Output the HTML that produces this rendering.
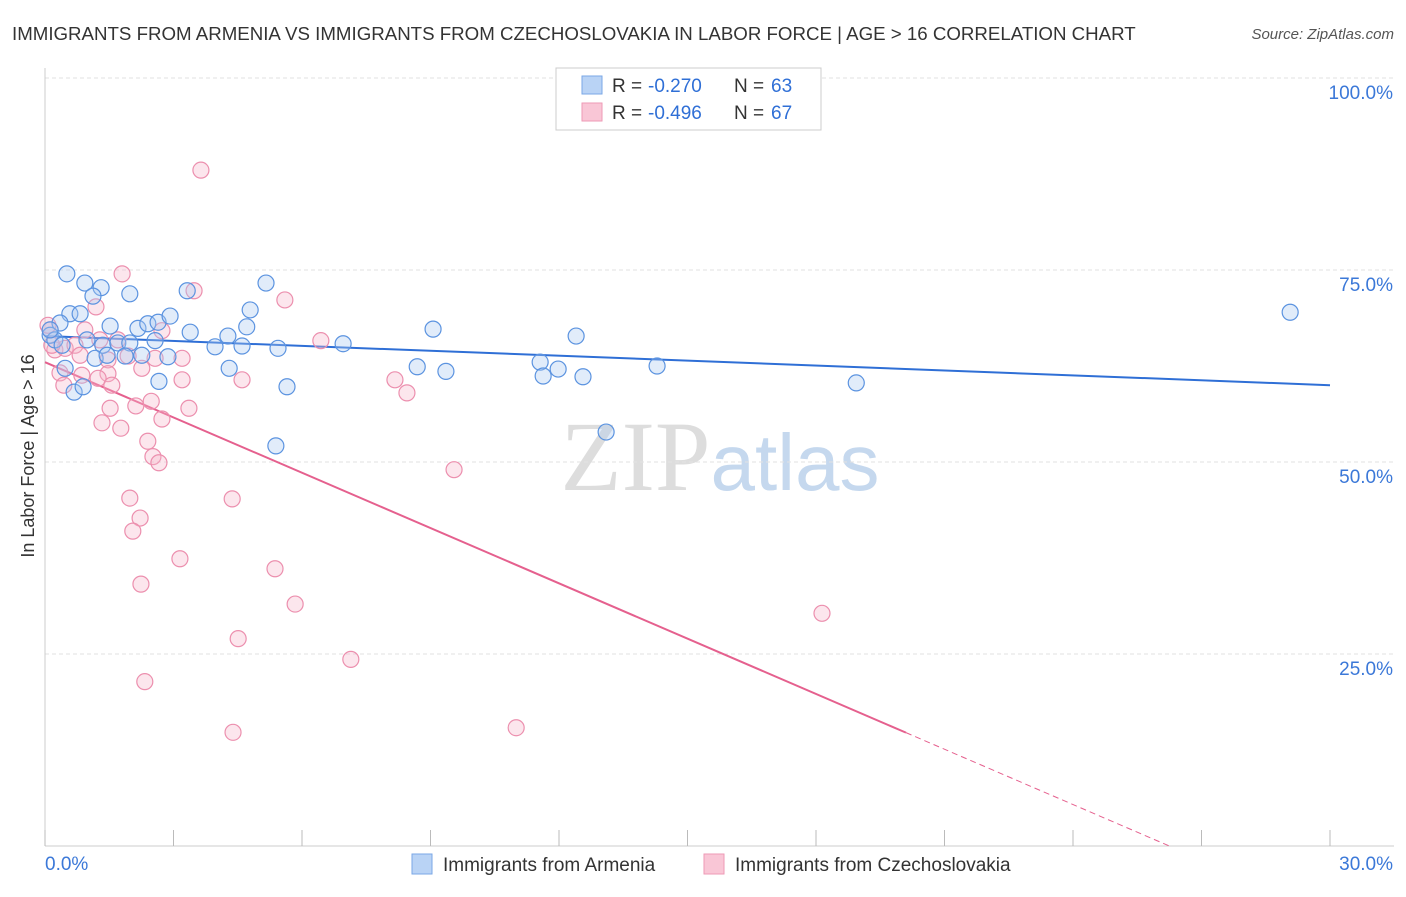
<!DOCTYPE html>
<html><head><meta charset="utf-8"><style>
body{margin:0;background:#fff;font-family:"Liberation Sans",sans-serif}
</style></head><body>
<svg id="chart" width="1406" height="892" xmlns="http://www.w3.org/2000/svg" font-family="Liberation Sans, sans-serif">
<text x="12" y="40" font-size="18.7" fill="#333">IMMIGRANTS FROM ARMENIA VS IMMIGRANTS FROM CZECHOSLOVAKIA IN LABOR FORCE | AGE &gt; 16 CORRELATION CHART</text>
<text x="1394" y="39" font-size="15" fill="#555" font-style="italic" text-anchor="end">Source: ZipAtlas.com</text>
<text x="720" y="490" font-size="100" text-anchor="middle"><tspan fill="#ddd" font-family="Liberation Serif, serif">ZIP</tspan><tspan fill="#c5d8ee" font-size="80">atlas</tspan></text>
<text transform="translate(34,456) rotate(-90)" font-size="18" fill="#333" text-anchor="middle">In Labor Force | Age &gt; 16</text>
<g id="grid"></g><g id="axes"></g><g id="lines"></g><g id="pts"></g>
<g>
<rect x="556" y="68" width="265" height="62" fill="#fff" stroke="#ccc"/>
<rect x="582" y="76" width="20" height="18" fill="#b9d3f5" stroke="#7aa7e6"/>
<text x="612" y="92" font-size="19" fill="#333">R = </text><text x="648" y="92" font-size="19" fill="#2f6fd6">-0.270</text>
<text x="734" y="92" font-size="19" fill="#333">N = </text><text x="771" y="92" font-size="19" fill="#2f6fd6">63</text>
<rect x="582" y="103" width="20" height="18" fill="#f9c6d6" stroke="#ee9ab6"/>
<text x="612" y="119" font-size="19" fill="#333">R = </text><text x="648" y="119" font-size="19" fill="#2f6fd6">-0.496</text>
<text x="734" y="119" font-size="19" fill="#333">N = </text><text x="771" y="119" font-size="19" fill="#2f6fd6">67</text>
</g>
<g>
<rect x="412" y="854" width="20" height="20" fill="#b9d3f5" stroke="#7aa7e6"/>
<text x="443" y="871" font-size="19" fill="#333">Immigrants from Armenia</text>
<rect x="704" y="854" width="20" height="20" fill="#f9c6d6" stroke="#ee9ab6"/>
<text x="735" y="871" font-size="19" fill="#333">Immigrants from Czechoslovakia</text>
</g>
</svg>
<script>
const yTicks=[25,50,75,100];
const yTickLabels=["25.0%","50.0%","75.0%","100.0%"];
const xTicks=[0,3,6,9,12,15,18,21,24,27,30];
const blueX=[0.51,0.93,1.31,1.12,1.98,3.32,5.16,4.79,0.58,0.82,0.35,1.52,2.17,2.40,2.64,2.92,3.39,4.27,4.71,9.06,12.4,29.07,0.12,0.23,0.98,1.35,1.70,1.98,2.57,3.97,4.60,5.44,6.96,1.17,1.45,1.87,2.26,2.87,0.47,4.30,8.69,9.36,11.56,11.63,11.98,12.56,14.29,18.94,2.66,5.65,0.68,0.89,13.1,5.39,0.12,0.40];
const blueY=[74.5,73.3,72.7,71.6,71.9,72.3,73.3,69.8,69.3,69.3,68.1,67.7,67.4,68.0,68.2,69.0,66.9,66.4,67.6,67.3,66.4,69.5,66.5,65.9,65.9,65.2,65.5,65.5,65.8,65.0,65.1,64.8,65.4,63.5,63.9,63.8,63.9,63.7,62.2,62.2,62.4,61.8,63.0,61.2,62.1,61.1,62.5,60.3,60.5,59.8,59.1,59.8,53.9,52.1,67.2,65.2];
const pinkX=[3.64,1.80,3.48,5.60,1.19,2.73,0.93,6.44,0.12,0.23,0.47,0.70,1.28,1.70,0.82,1.47,1.94,2.57,3.20,2.26,0.35,0.86,1.47,0.44,1.24,1.56,3.20,4.60,8.17,8.45,2.48,1.52,2.12,3.36,2.73,1.33,1.77,2.40,2.52,2.66,9.55,1.98,4.37,2.22,2.05,3.15,5.37,2.24,5.84,18.14,4.51,7.14,2.33,11.0,4.39,0.07,0.16];
const pinkY=[88.0,74.5,72.3,71.1,70.2,67.1,67.2,65.8,67.2,64.6,64.8,65.2,65.9,65.9,63.9,63.3,63.8,63.5,63.5,62.2,61.6,61.3,61.5,60.0,60.9,60.0,60.7,60.7,60.7,59.0,57.9,57.0,57.3,57.0,55.6,55.1,54.4,52.7,50.7,49.9,49.0,45.3,45.2,42.7,41.0,37.4,36.1,34.1,31.5,30.3,27.0,24.3,21.4,15.4,14.8,67.8,65.2];
const blueTrend=[66.4,60.0];
const pinkTrend=[63.0,-2.4];
const X0=45,X1=1330,Y0=846,Y1=78;
const sx=v=>X0+(v/30)*(X1-X0);
const sy=v=>Y0-(v/100)*(Y0-Y1);
const NS="http://www.w3.org/2000/svg";
function mk(parent,tag,attrs){const e=document.createElementNS(NS,tag);for(const k in attrs)e.setAttribute(k,attrs[k]);document.getElementById(parent).appendChild(e);return e;}
yTicks.forEach((t,i)=>{
 const g=mk('grid','line',{x1:X0,x2:1394,y1:sy(t),y2:sy(t),stroke:'#e2e2e2','stroke-dasharray':'4,3'});
 
 
 const l=mk('grid','text',{x:1393,y:sy(t)+21,'font-size':19,fill:'#3b78d8','text-anchor':'end'});
 l.textContent=yTickLabels[i];
 
 
});
const ax=mk('axes','line',{x1:X0,x2:X0,y1:68,y2:846,stroke:'#ccc'});


const bx=mk('axes','line',{x1:X0,x2:1394,y1:846,y2:846,stroke:'#ccc'});


xTicks.forEach(t=>{
 const tk=mk('axes','line',{x1:sx(t),x2:sx(t),y1:830,y2:846,stroke:'#bbb'});
 
 
});
const xl0=mk('axes','text',{x:45,y:870,'font-size':19,fill:'#3b78d8'});xl0.textContent=xTicks[0].toFixed(1)+'%';


const xl1=mk('axes','text',{x:1393,y:870,'font-size':19,fill:'#3b78d8','text-anchor':'end'});xl1.textContent=xTicks[xTicks.length-1].toFixed(1)+'%';


function dots(xs,ys,fill,stroke,name){xs.forEach((x,i)=>{
 const c=mk('pts','circle',{cx:sx(x),cy:sy(ys[i]),r:8,fill:fill,'fill-opacity':0.35,stroke:stroke,'stroke-width':1.2});
 
 
});}
dots(pinkX,pinkY,'#f7b6cb','#ec8fae','czechoslovakia-point');
dots(blueX,blueY,'#a9c8f0','#5b93e0','armenia-point');
const bl=mk('lines','line',{x1:sx(0),y1:sy(blueTrend[0]),x2:sx(30),y2:sy(blueTrend[1]),stroke:'#2f6fd6','stroke-width':2});


const xe=20.1, xz=-pinkTrend[0]/pinkTrend[1];
const pl=mk('lines','line',{x1:sx(0),y1:sy(pinkTrend[0]),x2:sx(xe),y2:sy(pinkTrend[0]+pinkTrend[1]*xe),stroke:'#e5608e','stroke-width':2});


const pd=mk('lines','line',{x1:sx(xe),y1:sy(pinkTrend[0]+pinkTrend[1]*xe),x2:sx(xz),y2:sy(0),stroke:'#e5608e','stroke-width':1,'stroke-dasharray':'6,4'});


</script>
</body></html>
